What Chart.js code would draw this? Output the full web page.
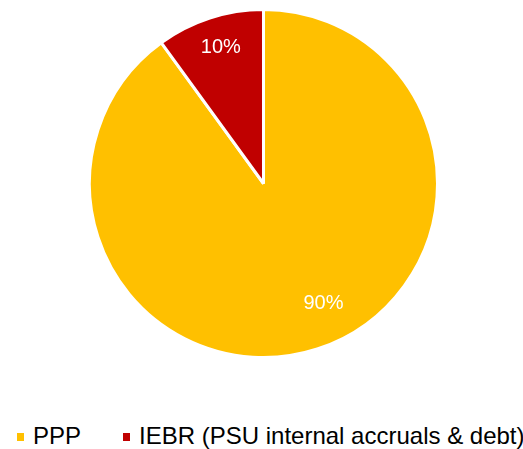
<!DOCTYPE html>
<html>
<head>
<meta charset="utf-8">
<script src="https://cdn.jsdelivr.net/npm/chart.js@4"></script>
<style>
  html, body { margin: 0; padding: 0; background: #fff; }
  #wrap { position: relative; width: 523px; height: 449px; }
  #chart { position: absolute; left: 0; top: 0; width: 523px; height: 380px; }
  #legend { position: absolute; left: 17px; top: 424px; display: flex; align-items: center;
            font: 24px/24px 'Liberation Sans', Arial, sans-serif; color: #000; white-space: nowrap; }
  .item { display: flex; align-items: center; margin-right: 42px; }
  .box { width: 7px; height: 8px; margin-right: 9px; margin-top: 2px; }
</style>
</head>
<body>
<div id="wrap">
  <div id="chart"><canvas id="myChart"></canvas></div>
  <div id="legend"></div>
</div>
<script>
const LABELS = ["PPP", "IEBR (PSU internal accruals & debt)"];
const VALUES = [90, 10];
const COLORS = ["#FFC000", "#C00000"];

// Draws the percentage inside each slice.
const sliceLabels = {
    id: 'sliceLabels',
    afterDatasetsDraw(chart, args, opts) {
        const ctx = chart.ctx;
        const meta = chart.getDatasetMeta(0);
        const total = VALUES.reduce((a, b) => a + b, 0);
        ctx.save();
        ctx.fillStyle = "#fff";
        ctx.font = "20px 'Liberation Sans', Arial, sans-serif";
        ctx.textAlign = "center";
        ctx.textBaseline = "middle";
        meta.data.forEach((arc, i) => {
            const p = arc.getProps(['x', 'y', 'startAngle', 'endAngle', 'outerRadius'], true);
            const mid = (p.startAngle + p.endAngle) / 2 + opts.angleShift[i];
            const r = p.outerRadius * opts.radius[i];
            const text = Math.round(VALUES[i] / total * 100) + "%";
            ctx.fillText(text, p.x + Math.cos(mid) * r, p.y + Math.sin(mid) * r);
        });
        ctx.restore();
    }
};

// HTML legend built from the chart's own legend items.
const htmlLegend = {
    id: 'htmlLegend',
    afterUpdate(chart) {
        const el = document.getElementById('legend');
        el.innerHTML = '';
        chart.options.plugins.legend.labels.generateLabels(chart).forEach((item) => {
            const div = document.createElement('div');
            div.className = 'item';
            const box = document.createElement('span');
            box.className = 'box';
            box.style.background = item.fillStyle;
            const txt = document.createElement('span');
            txt.textContent = item.text;
            div.appendChild(box);
            div.appendChild(txt);
            el.appendChild(div);
        });
    }
};

chart = new Chart(document.getElementById("myChart"), {
    type: "pie",
    data: {
        labels: LABELS,
        datasets: [{
            data: VALUES,
            backgroundColor: COLORS,
            borderColor: "#fff",
            borderWidth: 3
        }]
    },
    options: {
        responsive: true,
        maintainAspectRatio: false,
        animation: { duration: 0 },
        layout: { padding: { top: 8, bottom: 21, left: 4 } },
        plugins: {
            legend: { display: false },
            tooltip: { enabled: false },
            sliceLabels: {
                radius: [0.77, 0.82],
                angleShift: [-0.15, 0.01]
            }
        }
    },
    plugins: [sliceLabels, htmlLegend]
});
</script>
</body>
</html>
